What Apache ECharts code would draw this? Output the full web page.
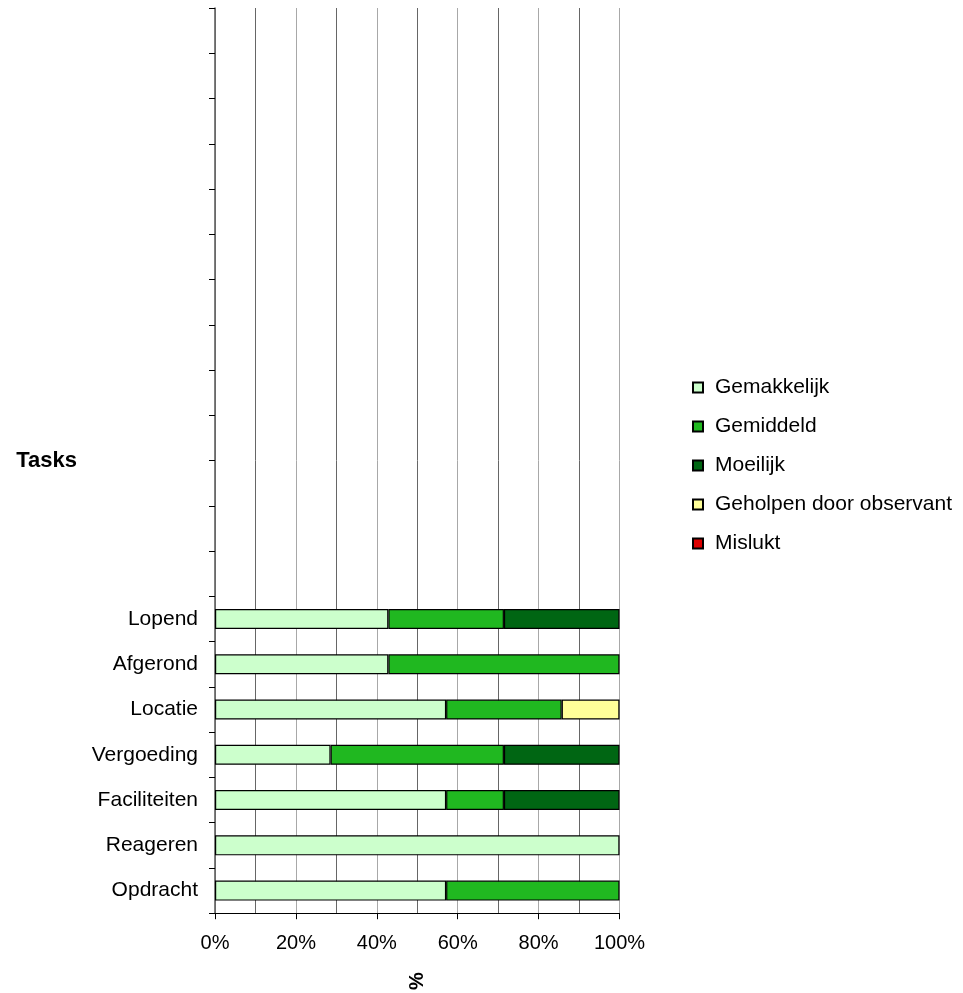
<!DOCTYPE html>
<html>
<head>
<meta charset="utf-8">
<title>Tasks</title>
<script src="https://cdn.jsdelivr.net/npm/echarts@6/dist/echarts.min.js"></script>
<style>
  html, body { margin: 0; padding: 0; background: #ffffff; }
  #chart { width: 963px; height: 993px; }
</style>
</head>
<body>
<div id="chart"></div>
<script>
// Task names, bottom to top; the remaining rows are unused slots
const tasks = ['Opdracht', 'Reageren', 'Faciliteiten', 'Vergoeding', 'Locatie', 'Afgerond', 'Lopend',
  '', '', '', '', '', '', '', '', '', '', '', '', ''];

// Share of participants per difficulty (%), same order as tasks
const gemakkelijk = [57.14, 100, 57.14, 28.57, 57.14, 42.86, 42.86];
const gemiddeld   = [42.86, 0, 14.29, 42.86, 28.57, 57.14, 28.57];
const moeilijk    = [0, 0, 28.57, 28.57, 0, 0, 28.57];
const geholpen    = [0, 0, 0, 0, 14.29, 0, 0];
const mislukt     = [0, 0, 0, 0, 0, 0, 0];

const seriesNames = ['Gemakkelijk', 'Gemiddeld', 'Moeilijk', 'Geholpen door observant', 'Mislukt'];
const seriesValues = [gemakkelijk, gemiddeld, moeilijk, geholpen, mislukt];
const seriesColors = ['#CCFFCC', '#20B820', '#006613', '#FFFF99', '#DD0000'];

const xTicks = [0, 20, 40, 60, 80, 100];

const FONT = "'Liberation Sans', Arial, sans-serif";

const chart = echarts.init(document.getElementById('chart'), null, { renderer: 'canvas' });

const series = seriesNames.map((name, i) => ({
  name: name,
  type: 'bar',
  stack: 'total',
  barWidth: 20,
  itemStyle: { color: seriesColors[i], borderColor: '#000000', borderWidth: 1.2 },
  emphasis: { disabled: true },
  // zero shares are left empty so no zero-width outline is drawn
  data: seriesValues[i].map(v => (v === 0 ? '-' : v))
}));

chart.setOption({
  animation: false,
  backgroundColor: '#ffffff',
  textStyle: { fontFamily: FONT },
  grid: { left: 215, right: 343.5, top: 8, bottom: 79, containLabel: false },
  legend: {
    orient: 'vertical',
    left: 687,
    top: 372,
    itemWidth: 10,
    itemHeight: 10,
    itemGap: 18,
    icon: 'rect',
    selectedMode: false,
    data: seriesNames,
    textStyle: { fontFamily: FONT, fontSize: 21, color: '#000000', lineHeight: 20, padding: [0, 0, 0, 7] }
  },
  xAxis: {
    type: 'value',
    min: xTicks[0],
    max: xTicks[xTicks.length - 1],
    interval: xTicks[1] - xTicks[0],
    name: '%',
    nameLocation: 'middle',
    nameRotate: 90,
    nameGap: 59,
    nameTextStyle: { fontFamily: FONT, fontSize: 20, fontWeight: 'bold', color: '#000000' },
    axisLine: { show: true, lineStyle: { color: '#000000', width: 1 } },
    axisTick: { show: true, length: 6, lineStyle: { color: '#000000' } },
    axisLabel: {
      margin: 20,
      fontFamily: FONT,
      fontSize: 20,
      color: '#000000',
      formatter: v => v + '%'
    },
    splitLine: { show: true, lineStyle: { color: '#a8a8a8', width: 1 } },
    minorTick: { show: false, splitNumber: 2 },
    minorSplitLine: { show: true, lineStyle: { color: '#666666', width: 1 } }
  },
  yAxis: {
    type: 'category',
    data: tasks,
    boundaryGap: true,
    name: 'Tasks',
    nameLocation: 'middle',
    nameRotate: 0,
    nameGap: 138,
    nameTextStyle: { fontFamily: FONT, fontSize: 22, fontWeight: 'bold', color: '#000000' },
    axisLine: { show: true, lineStyle: { color: '#555555', width: 1.5 } },
    axisTick: { show: true, length: 6, alignWithLabel: false, lineStyle: { color: '#000000' } },
    axisLabel: { margin: 17, fontFamily: FONT, fontSize: 21, color: '#000000', interval: 0 },
    splitLine: { show: false }
  },
  series: series
});
</script>
</body>
</html>
